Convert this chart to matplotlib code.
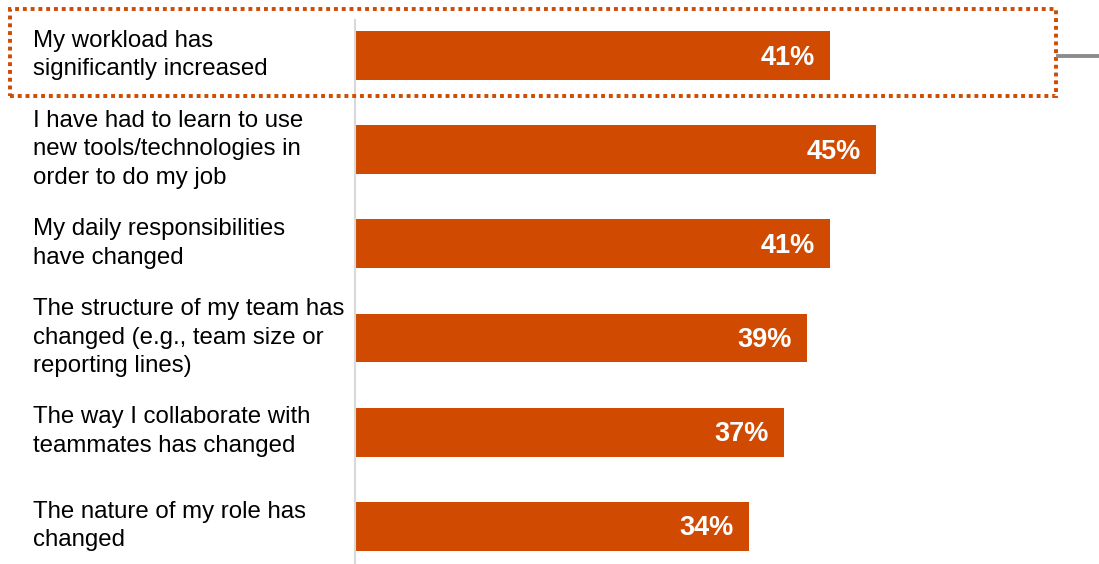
import matplotlib.pyplot as plt
from matplotlib.patches import Rectangle
from matplotlib.lines import Line2D
from matplotlib.transforms import blended_transform_factory

plt.rcParams['font.family'] = ['Liberation Sans', 'DejaVu Sans']

# dados
labels = [
    "My workload has\nsignificantly increased",
    "I have had to learn to use\nnew tools/technologies in\norder to do my job",
    "My daily responsibilities\nhave changed",
    "The structure of my team has\nchanged (e.g., team size or\nreporting lines)",
    "The way I collaborate with\nteammates has changed",
    "The nature of my role has\nchanged",
]
valores = [41, 45, 41, 39, 37, 34]

laranja = '#D04A02'
W, H = 1099, 564

fig = plt.figure(figsize=(W / 100, H / 100), dpi=100)
ax = fig.add_axes([355 / W, 0, 695 / W, 544 / H])

y = list(range(len(valores)))
barras = ax.barh(y, valores, height=0.52, color=laranja)
ax.set_xlim(0, 60)
ax.set_ylim(5.4, -0.377)

for s in ['top', 'right', 'bottom']:
    ax.spines[s].set_visible(False)
ax.spines['left'].set_color('#d9d9d9')
ax.spines['left'].set_linewidth(1.5)
ax.set_xticks([])
ax.set_yticks([])

# valores dentro das barras
for b, v in zip(barras, valores):
    ax.annotate(f'{v}%', (b.get_width(), b.get_y() + b.get_height() / 2),
                xytext=(-15, -2), textcoords='offset pixels',
                ha='right', va='center', color='white',
                fontsize=19.5, fontweight='bold')

# rótulos das categorias
trans = blended_transform_factory(fig.transFigure, ax.transData)
for i, lab in enumerate(labels):
    ax.text(33 / W, i - 0.005, lab, transform=trans, ha='left', va='center',
            fontsize=17.3, color='black', linespacing=1.38)

# destaque pontilhado
fig.patches.append(Rectangle((10 / W, 1 - 96 / H), 1046 / W, 87 / H,
                             transform=fig.transFigure, fill=False,
                             edgecolor=laranja, linewidth=2.8,
                             linestyle=(0, (1, 1))))
fig.lines.append(Line2D([1058 / W, 1], [1 - 56 / H, 1 - 56 / H],
                        transform=fig.transFigure, color='#8c8c8c', linewidth=2.8))

fig.savefig('out.png', dpi=100)
